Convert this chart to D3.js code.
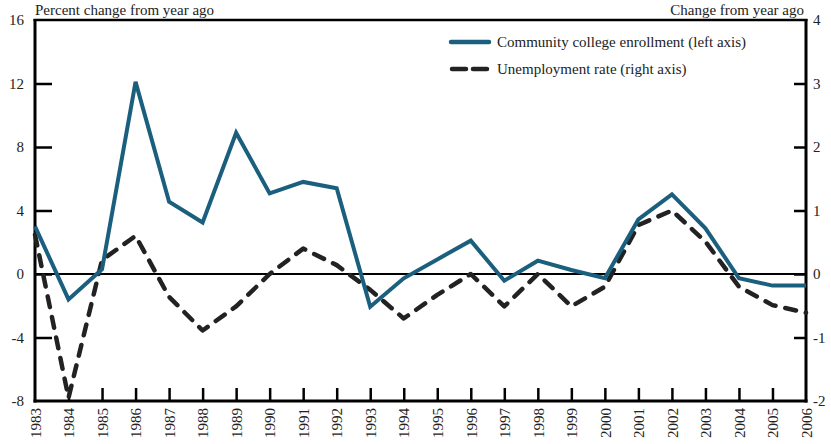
<!DOCTYPE html>
<html>
<head>
<meta charset="utf-8">
<script src="https://cdn.jsdelivr.net/npm/d3@7"></script>
<style>
  html, body { margin: 0; padding: 0; background: #fff; }
  svg { display: block; }
  text { font-family: "Liberation Serif", "DejaVu Serif", serif; fill: #222; }
</style>
</head>
<body>
<svg id="chart" width="831" height="444"></svg>
<script>
const years = [1983,1984,1985,1986,1987,1988,1989,1990,1991,1992,1993,1994,1995,1996,1997,1998,1999,2000,2001,2002,2003,2004,2005,2006];
const enrollment = [3.0,-1.6,0.3,12.1,4.55,3.25,8.9,5.08,5.8,5.4,-2.06,-0.27,0.92,2.1,-0.42,0.84,0.25,-0.27,3.44,5.02,2.88,-0.27,-0.73,-0.73];
const unemployment = [0.62,-1.95,0.22,0.6,-0.36,-0.89,-0.51,0.0,0.4,0.14,-0.25,-0.7,-0.33,0.0,-0.51,0.0,-0.51,-0.2,0.77,1.0,0.51,-0.2,-0.49,-0.61];
const leftTicks = [-8,-4,0,4,8,12,16];
const rightTicks = [-2,-1,0,1,2,3,4];
const seriesNames = ["Community college enrollment (left axis)", "Unemployment rate (right axis)"];
const leftTitle = "Percent change from year ago";
const rightTitle = "Change from year ago";

const blue = "#1b5f7e";
const dark = "#222222";
const L = 35, R = 806, T = 20, B = 401;

const svg = d3.select("#chart");
const x = d3.scaleLinear().domain([1983, 2006]).range([L, R]);
const yL = d3.scaleLinear().domain([-8, 16]).range([B, T]);
const yR = d3.scaleLinear().domain([-2, 4]).range([B, T]);
const fmt = d => String(d);

// zero line
svg.append("line")
  .attr("x1", L).attr("x2", R).attr("y1", yL(0)).attr("y2", yL(0))
  .attr("stroke", "#000").attr("stroke-width", 2);

// top border
svg.append("line")
  .attr("x1", L - 1.5).attr("x2", R + 1.5).attr("y1", T).attr("y2", T)
  .attr("stroke", "#000").attr("stroke-width", 2.5);

// left axis
const gL = svg.append("g").attr("transform", `translate(${L},0)`)
  .call(d3.axisLeft(yL).tickValues(leftTicks).tickSize(-17).tickSizeOuter(0).tickPadding(11).tickFormat(fmt));
// right axis
const gR = svg.append("g").attr("transform", `translate(${R},0)`)
  .call(d3.axisRight(yR).tickValues(rightTicks).tickSize(-12).tickSizeOuter(0).tickPadding(7).tickFormat(fmt));
// bottom axis
const gB = svg.append("g").attr("transform", `translate(0,${B})`)
  .call(d3.axisBottom(x).tickValues(years).tickSize(-13).tickSizeOuter(0).tickFormat(fmt));

[gL, gR, gB].forEach(g => {
  g.select(".domain").attr("stroke", "#000").attr("stroke-width", 3);
  g.selectAll(".tick line").attr("stroke", "#000").attr("stroke-width", 2.5);
  g.selectAll(".tick text").attr("font-size", 15).attr("fill", "#222")
    .style("font-family", '"Liberation Serif", "DejaVu Serif", serif');
});
gL.select(".domain").attr("d", `M0,${T - 1}V${B + 1.5}`);
gR.select(".domain").attr("d", `M0,${T - 1}V${B + 1.5}`);
gB.select(".domain").attr("d", `M${L - 1.5},0H${R + 1.5}`);
gB.selectAll(".tick line").filter(d => d === 1983 || d === 2006).remove();
gL.selectAll(".tick line").filter(d => d === 16 || d === -8).remove();
gR.selectAll(".tick line").filter(d => d === 4 || d === -2).remove();
gB.selectAll(".tick text")
  .attr("transform", "rotate(-90)")
  .attr("x", -7).attr("y", 0).attr("dy", "0.35em")
  .attr("text-anchor", "end");

// axis titles
svg.append("text").attr("x", L).attr("y", 15).attr("font-size", 15).text(leftTitle);
svg.append("text").attr("x", R - 2).attr("y", 15).attr("font-size", 15).attr("text-anchor", "end").text(rightTitle);

// lines
const lineL = d3.line().x((d, i) => x(years[i])).y(d => yL(d));
const lineR = d3.line().x((d, i) => x(years[i])).y(d => yR(d));

svg.append("path").datum(unemployment)
  .attr("d", lineR).attr("fill", "none").attr("stroke", dark)
  .attr("stroke-width", 4.5).attr("stroke-dasharray", "11,10").attr("stroke-linecap", "round").attr("stroke-linejoin", "round");

svg.append("path").datum(enrollment)
  .attr("d", lineL).attr("fill", "none").attr("stroke", blue)
  .attr("stroke-width", 4).attr("stroke-linejoin", "miter");

// legend
const leg = svg.append("g");
leg.append("line").attr("x1", 451).attr("x2", 489).attr("y1", 42).attr("y2", 42)
  .attr("stroke", blue).attr("stroke-width", 4.5).attr("stroke-linecap", "round");
leg.append("line").attr("x1", 452).attr("x2", 489).attr("y1", 69).attr("y2", 69)
  .attr("stroke", dark).attr("stroke-width", 4.5).attr("stroke-linecap", "round").attr("stroke-dasharray", "14,7");
leg.append("text").attr("x", 497).attr("y", 47).attr("font-size", 15).text(seriesNames[0]);
leg.append("text").attr("x", 497).attr("y", 74).attr("font-size", 15).text(seriesNames[1]);
</script>
</body>
</html>
